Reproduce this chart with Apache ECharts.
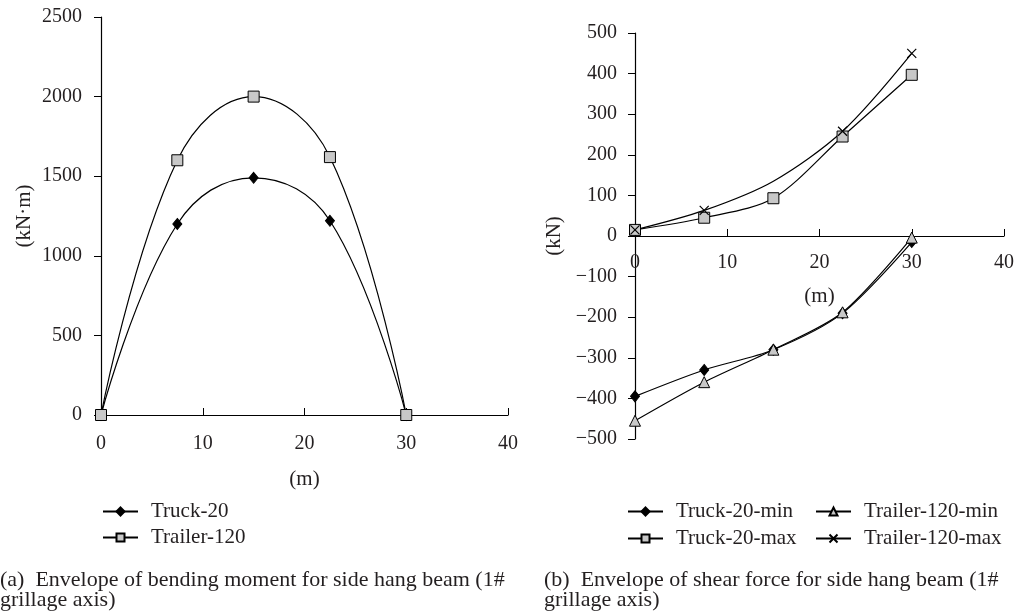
<!DOCTYPE html>
<html>
<head>
<meta charset="utf-8">
<script src="https://cdn.jsdelivr.net/npm/echarts@6/dist/echarts.min.js"></script>
<style>html,body{margin:0;padding:0;background:#fff;}#c{width:1017px;height:615px;}</style>
</head>
<body>
<div id="c"></div>
<script>
// ---- data ----
const positions = [0, 7.5, 15, 22.5, 30];            // (m)
const momentTruck20 = [0, 1200, 1490, 1220, 0];       // kN·m
const momentTrailer120 = [0, 1600, 2000, 1620, 0];    // kN·m
const shearTruck20Min = [-395, -330, -280, -190, -15];   // kN
const shearTrailer120Min = [-455, -360, -280, -188, -4]; // kN
const shearTruck20Max = [15, 45, 93, 245, 397];          // kN
const shearTrailer120Max = [15, 63, 135, 258, 450];      // kN
const xTicks = [0, 10, 20, 30, 40];
const momentTicks = [0, 500, 1000, 1500, 2000, 2500];
const shearTicks = [-500, -400, -300, -200, -100, 0, 100, 200, 300, 400, 500];
const captionA = '(a)  Envelope of bending moment for side hang beam (1#\ngrillage axis)';
const captionB = '(b)  Envelope of shear force for side hang beam (1#\ngrillage axis)';

const FONT = 'Liberation Serif';
const TXT = '#231f20';
const FS_TICK = 20, FS_LEG = 21, FS_NAME = 21, FS_CAP = 22;
const pair = (xs, ys) => xs.map((x, i) => [x, ys[i]]);
const plain = v => String(v).replace('-', '\u2212');
const CROSS = 'path://M0,0L10,10M10,0L0,10';

const lineAx = { show: true, lineStyle: { color: '#000', width: 1.2 } };
const nameTS = { fontFamily: FONT, fontSize: FS_NAME, color: TXT };
const lab = m => ({ fontFamily: FONT, fontSize: FS_TICK, color: TXT, margin: m, formatter: plain });

function lineSeries(name, xi, yi, data, symbol, size, fill, smooth, extra) {
  return Object.assign({
    name, type: 'line', xAxisIndex: xi, yAxisIndex: yi, data,
    smooth, symbol, symbolSize: size, showSymbol: true,
    lineStyle: { color: '#000', width: 1.2 },
    itemStyle: { color: fill, borderColor: '#000', borderWidth: 1 },
    emphasis: { disabled: true }, animation: false, z: 3
  }, extra || {});
}

const trailerMaxData = pair(positions, shearTrailer120Max).map((p, i) =>
  i === 2 ? { value: p, symbol: 'none' } : p);

function leg(name, left, top) {
  return {
    data: [name], left, top, padding: 0, itemWidth: 35, itemHeight: 10,
    selectedMode: false, orient: 'horizontal',
    textStyle: { fontFamily: FONT, fontSize: FS_LEG, color: TXT, padding: [0, 0, 0, 8] }
  };
}

const option = {
  backgroundColor: '#fff',
  animation: false,
  grid: [
    { left: 101, top: 17, width: 407, height: 398 },
    { left: 635, top: 33, width: 370, height: 406 }
  ],
  xAxis: [
    {
      type: 'value', gridIndex: 0, min: xTicks[0], max: xTicks[xTicks.length - 1], interval: 10,
      name: '(m)', nameLocation: 'middle', nameGap: 54, nameTextStyle: nameTS,
      axisLine: Object.assign({ onZero: false }, lineAx), splitLine: { show: false },
      axisTick: { show: true, inside: true, length: 7, lineStyle: { color: '#000' } },
      axisLabel: lab(19)
    },
    {
      type: 'value', gridIndex: 1, min: xTicks[0], max: xTicks[xTicks.length - 1], interval: 10,
      name: '(m)', nameLocation: 'middle', nameGap: 50, nameTextStyle: nameTS,
      position: 'bottom', offset: -203,
      axisLine: Object.assign({ onZero: false }, lineAx), splitLine: { show: false },
      axisTick: { show: true, inside: true, length: 7, lineStyle: { color: '#000' } },
      axisLabel: lab(17)
    }
  ],
  yAxis: [
    {
      type: 'value', gridIndex: 0, min: momentTicks[0], max: momentTicks[momentTicks.length - 1], interval: 500,
      name: '(kN\u00b7m)', nameLocation: 'middle', nameGap: 66, nameTextStyle: nameTS,
      axisLine: Object.assign({ onZero: false }, lineAx), splitLine: { show: false },
      axisTick: { show: true, inside: false, length: 7, lineStyle: { color: '#000' } },
      axisLabel: lab(19)
    },
    {
      type: 'value', gridIndex: 1, min: shearTicks[0], max: shearTicks[shearTicks.length - 1], interval: 100,
      name: '(kN)', nameLocation: 'middle', nameGap: 70, nameTextStyle: nameTS,
      axisLine: Object.assign({ onZero: false }, lineAx), splitLine: { show: false },
      axisTick: { show: true, inside: false, length: 7, lineStyle: { color: '#000' } },
      axisLabel: lab(18)
    }
  ],
  legend: [
    leg('Truck-20', 102, 501),
    leg('Trailer-120', 102, 527),
    leg('Truck-20-min', 627, 501),
    leg('Trailer-120-min', 815, 501),
    leg('Truck-20-max', 627, 528),
    leg('Trailer-120-max', 815, 528)
  ],
  title: [
    { text: captionA, left: 0, top: 570, padding: 0,
      textStyle: { fontFamily: FONT, fontSize: FS_CAP, fontWeight: 'normal', color: TXT, lineHeight: 20 } },
    { text: captionB, left: 544, top: 570, padding: 0,
      textStyle: { fontFamily: FONT, fontSize: FS_CAP, fontWeight: 'normal', color: TXT, lineHeight: 20 } }
  ],
  series: [
    lineSeries('Truck-20', 0, 0, pair(positions, momentTruck20), 'diamond', [9, 11], '#000', 0.4),
    lineSeries('Trailer-120', 0, 0, pair(positions, momentTrailer120), 'rect', 11, '#c8c8c8', 0.4),
    lineSeries('Truck-20-min', 1, 1, pair(positions, shearTruck20Min), 'diamond', [9, 11], '#000', 0.3),
    lineSeries('Trailer-120-min', 1, 1, pair(positions, shearTrailer120Min), 'triangle', 11, '#c8c8c8', 0.3),
    lineSeries('Truck-20-max', 1, 1, pair(positions, shearTruck20Max), 'rect', 11, '#c8c8c8', 0.3),
    lineSeries('Trailer-120-max', 1, 1, trailerMaxData, CROSS, 9, 'rgba(0,0,0,0)', 0.3,
      { itemStyle: { color: 'rgba(0,0,0,0)', borderColor: '#000', borderWidth: 1.2 } })
  ]
};

const chart = echarts.init(document.getElementById('c'), null, { renderer: 'canvas' });
chart.setOption(option);
</script>
</body>
</html>
